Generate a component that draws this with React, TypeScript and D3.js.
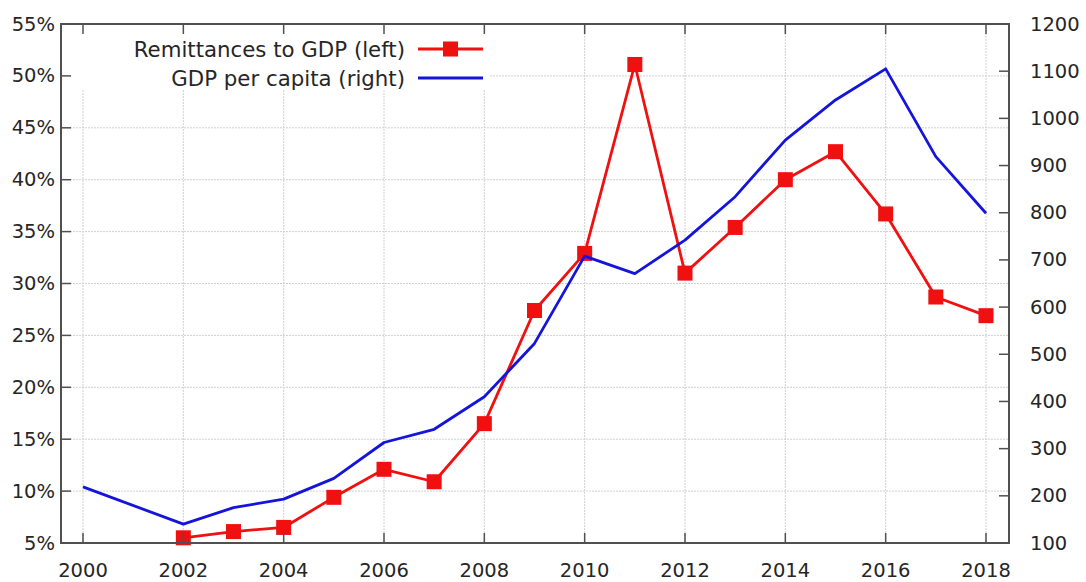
import React from "react";
import * as d3 from "d3";

// Remittances as share of GDP (%), left axis
const remitYears = [2002, 2003, 2004, 2005, 2006, 2007, 2008, 2009, 2010, 2011, 2012, 2013, 2014, 2015, 2016, 2017, 2018];
const remitValues = [5.5, 6.1, 6.5, 9.4, 12.1, 10.9, 16.5, 27.4, 32.9, 51.1, 31.0, 35.4, 40.0, 42.7, 36.7, 28.7, 26.9];

// GDP per capita (US$), right axis
const gdpYears = [2000, 2002, 2003, 2004, 2005, 2006, 2007, 2008, 2009, 2010, 2011, 2012, 2013, 2014, 2015, 2016, 2017, 2018];
const gdpValues = [219, 140, 175, 193, 237, 313, 341, 410, 523, 708, 671, 742, 834, 954, 1039, 1105, 919, 799];

const xTicks = [2000, 2002, 2004, 2006, 2008, 2010, 2012, 2014, 2016, 2018];
const leftTicks = [5, 10, 15, 20, 25, 30, 35, 40, 45, 50, 55];
const rightTicks = [100, 200, 300, 400, 500, 600, 700, 800, 900, 1000, 1100, 1200];

const legendLabels = ["Remittances to GDP (left)", "GDP per capita (right)"];

const W = 1086;
const H = 582;
const frame = { left: 61, right: 1009, top: 24, bottom: 543 };

const RED = "#f01010";
const BLUE = "#1414dc";
const AXIS = "#505050";
const GRID = "#d0d0d0";
const TEXT = "#262626";
const FONT = "'DejaVu Sans', Verdana, sans-serif";

export default function App() {
  const x = d3.scaleLinear().domain([2000, 2018]).range([83, 986]);
  const yL = d3.scaleLinear().domain([5, 55]).range([frame.bottom, frame.top]);
  const yR = d3.scaleLinear().domain([100, 1200]).range([frame.bottom, frame.top]);

  const remitPts: [number, number][] = remitYears.map((yr, i) => [x(yr), yL(remitValues[i])]);
  const gdpPts: [number, number][] = gdpYears.map((yr, i) => [x(yr), yR(gdpValues[i])]);
  const line = d3.line();

  const tickLen = 10;
  const marker = 15;
  const lw = 2.8;

  return (
    <div style={{ position: "fixed", left: 0, top: 0, width: W, height: H, background: "#fff" }}>
      <svg width={W} height={H} style={{ display: "block" }} fontFamily={FONT}>
        <rect x={0} y={0} width={W} height={H} fill="#fff" />

        {/* grid */}
        <g stroke={GRID} strokeWidth={1} strokeDasharray="2,1">
          {leftTicks
            .filter((t) => t > 5 && t < 55)
            .map((t) => (
              <line key={"h" + t} x1={frame.left} x2={frame.right} y1={yL(t)} y2={yL(t)} />
            ))}
          {xTicks.map((t) => (
            <line key={"v" + t} x1={x(t)} x2={x(t)} y1={frame.top} y2={frame.bottom} />
          ))}
        </g>

        {/* legend background */}
        <rect x={frame.left + 1} y={frame.top + 1} width={428} height={65} fill="#fff" />

        {/* series */}
        <path d={line(remitPts) || ""} fill="none" stroke={RED} strokeWidth={lw} strokeLinejoin="round" />
        {remitPts.map(([px, py], i) => (
          <rect key={"m" + i} x={px - marker / 2} y={py - marker / 2} width={marker} height={marker} fill={RED} />
        ))}
        <path d={line(gdpPts) || ""} fill="none" stroke={BLUE} strokeWidth={lw} strokeLinejoin="round" />

        {/* ticks */}
        <g stroke={AXIS} strokeWidth={1.5}>
          {leftTicks.map((t) => (
            <line key={"lt" + t} x1={frame.left} x2={frame.left + tickLen} y1={yL(t)} y2={yL(t)} />
          ))}
          {rightTicks.map((t) => (
            <line key={"rt" + t} x1={frame.right - tickLen} x2={frame.right} y1={yR(t)} y2={yR(t)} />
          ))}
          {xTicks.map((t) => (
            <g key={"xt" + t}>
              <line x1={x(t)} x2={x(t)} y1={frame.bottom} y2={frame.bottom - tickLen} />
              <line x1={x(t)} x2={x(t)} y1={frame.top} y2={frame.top + tickLen} />
            </g>
          ))}
        </g>

        {/* frame */}
        <rect
          x={frame.left}
          y={frame.top}
          width={frame.right - frame.left}
          height={frame.bottom - frame.top}
          fill="none"
          stroke={AXIS}
          strokeWidth={2}
        />

        {/* tick labels */}
        <g fontSize={19.5} fill={TEXT}>
          {leftTicks.map((t) => (
            <text key={"ll" + t} x={55} y={yL(t)} textAnchor="end" dominantBaseline="central">
              {t}%
            </text>
          ))}
          {rightTicks.map((t) => (
            <text key={"rl" + t} x={1030} y={yR(t)} textAnchor="start" dominantBaseline="central">
              {t}
            </text>
          ))}
          {xTicks.map((t) => (
            <text key={"xl" + t} x={x(t)} y={577} textAnchor="middle">
              {t}
            </text>
          ))}
        </g>

        {/* legend */}
        <g fontSize={21.3} fill={TEXT}>
          <text x={405} y={49} textAnchor="end" dominantBaseline="central">
            {legendLabels[0]}
          </text>
          <text x={405} y={78} textAnchor="end" dominantBaseline="central">
            {legendLabels[1]}
          </text>
        </g>
        <line x1={418} x2={483} y1={49} y2={49} stroke={RED} strokeWidth={lw} />
        <rect x={450.5 - marker / 2} y={49 - marker / 2} width={marker} height={marker} fill={RED} />
        <line x1={418} x2={483} y1={78} y2={78} stroke={BLUE} strokeWidth={lw} />
      </svg>
    </div>
  );
}
